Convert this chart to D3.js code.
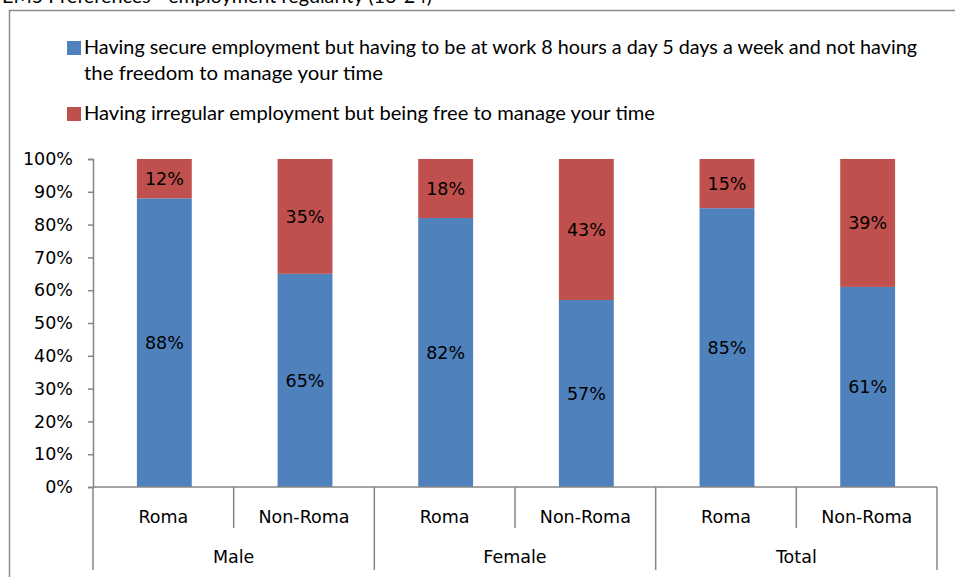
<!DOCTYPE html>
<html>
<head>
<meta charset="utf-8">
<script src="https://cdn.jsdelivr.net/npm/d3@7"></script>
<style>
  body { margin: 0; background: #fff; }
  svg { display: block; }
</style>
</head>
<body>
<svg id="chart" width="955" height="577"></svg>
<script>
// ---- data ----
const titleText = "EM5 Preferences - employment regularity (16-24)";
const groups = ["Male", "Female", "Total"];
const subgroups = ["Roma", "Non-Roma"];
const secureValues = [88, 65, 82, 57, 85, 61];
const irregularValues = [12, 35, 18, 43, 15, 39];
const legendSecure = [
  "Having secure employment but having to be at work 8 hours a day 5 days a week and not having",
  "the freedom to manage your time"
];
const legendIrregular = ["Having irregular employment but being free to manage your time"];
const yTickValues = [0, 10, 20, 30, 40, 50, 60, 70, 80, 90, 100];

// ---- layout ----
const svg = d3.select("#chart");
const W = 955, H = 577;
const plot = { left: 93, right: 937, top: 159, bottom: 487 };
const colors = { secure: "#4F81BD", irregular: "#C0504D", axis: "#868686", frame: "#8C8C8C" };
const labelFont = "'DejaVu Sans', Verdana, sans-serif";
const legendFont = "Lato, 'Open Sans', sans-serif";

// categories as "group|subgroup" keys
const cats = [];
groups.forEach(g => subgroups.forEach(s => cats.push({ group: g, sub: s, key: g + "|" + s })));
const rows = cats.map((c, i) => ({ ...c, secure: secureValues[i], irregular: irregularValues[i] }));

const x = d3.scaleBand().domain(cats.map(c => c.key)).range([plot.left, plot.right]).padding(0);
const y = d3.scaleLinear().domain([0, 100]).range([plot.bottom, plot.top]);
const barW = x.bandwidth() * 0.39;
const barOffset = (x.bandwidth() - barW) / 2 + 1;

// title (partly above the page edge)
svg.append("text")
  .attr("x", 2).attr("y", 3)
  .attr("font-family", legendFont).attr("font-size", 20)
  .attr("textLength", 430).attr("lengthAdjust", "spacingAndGlyphs")
  .attr("fill", "#000")
  .text(titleText);

// chart frame
svg.append("rect")
  .attr("x", 9.5).attr("y", 10.5)
  .attr("width", 1200).attr("height", 1200)
  .attr("fill", "none").attr("stroke", colors.frame).attr("stroke-width", 1.5);

// legend
const legend = svg.append("g");
const legendItems = [
  { lines: legendSecure, color: colors.secure, top: 41, widths: [833, 299] },
  { lines: legendIrregular, color: colors.irregular, top: 107, widths: [571] }
];
legendItems.forEach(item => {
  legend.append("rect")
    .attr("x", 67).attr("y", item.top)
    .attr("width", 14).attr("height", 14)
    .attr("fill", item.color);
  item.lines.forEach((line, j) => {
    legend.append("text")
      .attr("x", 84).attr("y", item.top + 12.5 + j * 26)
      .attr("font-family", legendFont).attr("font-size", 20)
      .attr("textLength", item.widths[j]).attr("lengthAdjust", "spacingAndGlyphs")
      .attr("fill", "#000")
      .text(line);
  });
});

// y axis
const yAxis = d3.axisLeft(y).tickValues(yTickValues).tickSize(5).tickPadding(15)
  .tickFormat(d => d + "%");
const yg = svg.append("g").attr("transform", `translate(${plot.left},0)`).call(yAxis);
yg.select(".domain").attr("stroke", colors.axis).attr("stroke-width", 1.5);
yg.selectAll(".tick line").attr("stroke", colors.axis).attr("stroke-width", 1.5);
yg.selectAll(".tick text")
  .attr("font-family", labelFont).attr("font-size", 17.5).attr("fill", "#000");

// stacked bars
const barG = svg.append("g");
rows.forEach(r => {
  const x0 = x(r.key) + barOffset;
  barG.append("rect")
    .attr("x", x0).attr("width", barW)
    .attr("y", y(r.secure)).attr("height", y(0) - y(r.secure))
    .attr("fill", colors.secure);
  barG.append("rect")
    .attr("x", x0).attr("width", barW)
    .attr("y", y(r.secure + r.irregular)).attr("height", y(r.secure) - y(r.secure + r.irregular))
    .attr("fill", colors.irregular);
  barG.append("text")
    .attr("x", x0 + barW / 2).attr("y", (y(0) + y(r.secure)) / 2)
    .attr("dy", "0.36em").attr("text-anchor", "middle")
    .attr("font-family", labelFont).attr("font-size", 17.5).attr("fill", "#000")
    .text(r.secure + "%");
  barG.append("text")
    .attr("x", x0 + barW / 2).attr("y", (y(r.secure) + y(r.secure + r.irregular)) / 2)
    .attr("dy", "0.36em").attr("text-anchor", "middle")
    .attr("font-family", labelFont).attr("font-size", 17.5).attr("fill", "#000")
    .text(r.irregular + "%");
});

// x axis: baseline, subgroup and group dividers, labels
const xg = svg.append("g");
xg.append("line")
  .attr("x1", plot.left).attr("x2", plot.right)
  .attr("y1", plot.bottom).attr("y2", plot.bottom)
  .attr("stroke", colors.axis).attr("stroke-width", 1.5);

const boundaries = cats.map(c => x(c.key)).concat([x(cats[cats.length - 1].key) + x.bandwidth()]);
boundaries.forEach((bx, i) => {
  const isGroupEdge = i % subgroups.length === 0;
  xg.append("line")
    .attr("x1", bx).attr("x2", bx)
    .attr("y1", plot.bottom).attr("y2", isGroupEdge ? 570 : 528)
    .attr("stroke", colors.axis).attr("stroke-width", 1.5);
});

rows.forEach(r => {
  xg.append("text")
    .attr("x", x(r.key) + x.bandwidth() / 2).attr("y", 523)
    .attr("text-anchor", "middle")
    .attr("font-family", labelFont).attr("font-size", 17.5).attr("fill", "#000")
    .text(r.sub);
});
groups.forEach(g => {
  const first = x(g + "|" + subgroups[0]);
  const last = x(g + "|" + subgroups[subgroups.length - 1]) + x.bandwidth();
  xg.append("text")
    .attr("x", (first + last) / 2).attr("y", 563)
    .attr("text-anchor", "middle")
    .attr("font-family", labelFont).attr("font-size", 17.5).attr("fill", "#000")
    .text(g);
});
</script>
</body>
</html>
